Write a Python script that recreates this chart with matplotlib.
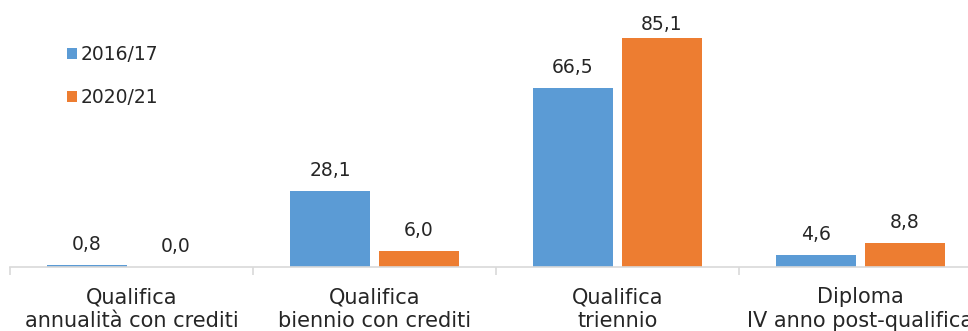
import matplotlib
matplotlib.use("Agg")
import matplotlib.pyplot as plt
import numpy as np

categories = ["Qualifica\nannualità con crediti", "Qualifica\nbiennio con crediti",
              "Qualifica\ntriennio", "Diploma\nIV anno post-qualifica"]
series_names = ["2016/17", "2020/21"]
values_2016 = [0.8, 28.1, 66.5, 4.6]
values_2020 = [0.0, 6.0, 85.1, 8.8]

blue = "#5B9BD5"
orange = "#ED7D31"
axis_grey = "#D9D9D9"
text_col = "#262626"

plt.rcParams["font.family"] = ["DejaVu Sans"]

W, H = 968, 331
fig = plt.figure(figsize=(W / 100, H / 100), dpi=100)
# axes spans past the right edge of the figure
ax_left, ax_right = 10, 982
ax_bottom, ax_top = 267, 25
ax_h = ax_bottom - ax_top
ax = fig.add_axes([ax_left / W, (H - ax_bottom) / H,
                   (ax_right - ax_left) / W, ax_h / H])

y_max = 90
x = np.arange(len(categories))
bw = 0.33
off = 0.183
b1 = ax.bar(x - off, values_2016, bw, color=blue, label=series_names[0])
b2 = ax.bar(x + off, values_2020, bw, color=orange, label=series_names[1])

# value labels sit a fixed gap above each bar, kept inside the plot area
gap = 15 / ax_h * y_max
cap = y_max - 1.8
for bars, vals in ((b1, values_2016), (b2, values_2020)):
    for rect, v in zip(bars, vals):
        ax.text(rect.get_x() + rect.get_width() / 2, min(v + gap, cap),
                f"{v:.1f}".replace(".", ","),
                ha="center", va="baseline", fontsize=13.5, color=text_col)

ax.set_xlim(-0.5, len(categories) - 0.5)
ax.set_ylim(0, y_max)
ax.set_yticks([])
for s in ("top", "right", "left"):
    ax.spines[s].set_visible(False)
ax.spines["bottom"].set_color(axis_grey)
ax.spines["bottom"].set_linewidth(1.2)

# category boundaries as ticks
ax.set_xticks(np.arange(-0.5, len(categories) + 0.5, 1.0))
ax.set_xticklabels([])
ax.tick_params(axis="x", length=6, color=axis_grey, width=1.2)

xform = ax.get_xaxis_transform()
baselines = [303, 327]
for xi, lab in zip(x, categories):
    for line, by in zip(lab.split("\n"), baselines):
        ax.text(xi, (ax_bottom - by) / ax_h, line, transform=xform,
                ha="center", va="baseline", fontsize=15,
                color=text_col, clip_on=False)

fig.legend(handles=[b1, b2], labels=series_names, loc="upper left",
           bbox_to_anchor=(67 / W, 1 - 45 / H), frameon=False,
           borderpad=0, borderaxespad=0,
           fontsize=13.5, handlelength=0.55, handleheight=0.55,
           handletextpad=0.2, labelspacing=1.27, labelcolor=text_col)

fig.savefig("out.png", dpi=100)
